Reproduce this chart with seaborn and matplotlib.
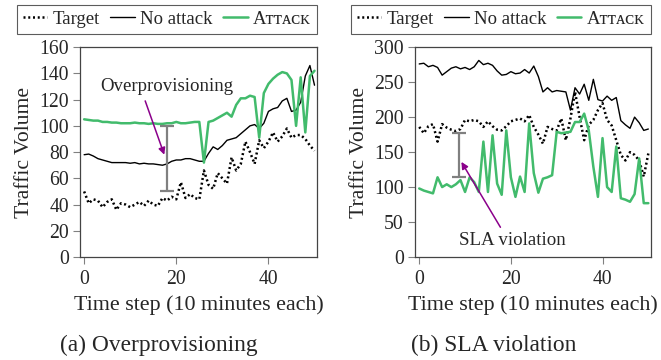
import numpy as np
import pandas as pd
import seaborn as sns
import matplotlib.pyplot as plt
from matplotlib.lines import Line2D

# ---------------------------------------------------------------------------
# data (time step 0..50)
# ---------------------------------------------------------------------------
steps = list(range(51))

over_target = [50, 41, 44, 43, 38, 42, 44, 36, 41, 40, 38, 40, 42, 39, 43, 40, 39,
               45, 43, 46, 44, 57, 45, 48, 45, 44, 66, 55, 52, 64, 60, 56, 76, 66,
               71, 88, 80, 71, 89, 83, 88, 95, 88, 92, 98, 91, 93, 93, 90, 85, 81]
over_noattack = [78, 78.5, 77, 75, 74, 73, 72, 72, 72, 72, 71.5, 72, 71, 71.5, 71, 71,
                 70.5, 70, 71, 73, 74, 74, 75, 75, 74, 73, 73, 79, 84, 82, 85, 89, 90,
                 91, 94, 97, 100, 101, 98, 102, 111, 113, 114, 119, 121, 111, 112, 118,
                 138, 146, 131]
over_attack = [105, 104.5, 104, 104, 103, 103, 102.5, 102.5, 102, 102, 102, 102.5, 102,
               102, 101.5, 102, 101.5, 101.5, 102, 102, 103, 102, 102, 102.5, 103, 103,
               72, 103, 104, 106, 108, 110, 107, 116, 121, 121, 123, 122, 91, 125, 132,
               136, 139, 141, 140, 135, 100, 137, 95, 138, 142]

sla_target = [186, 177, 187, 190, 165, 190, 185, 182, 180, 183, 196, 194, 196, 194, 186,
              194, 187, 182, 181, 187, 194, 196, 198, 194, 203, 186, 175, 162, 186, 183,
              181, 198, 167, 198, 236, 200, 167, 189, 196, 210, 220, 196, 188, 167, 146,
              138, 150, 146, 138, 115, 148]
sla_noattack = [276, 277, 272, 274, 271, 260, 265, 270, 272, 269, 271, 268, 272, 281, 275,
                277, 274, 266, 260, 261, 265, 262, 263, 268, 263, 273, 258, 236, 242, 236,
                238, 237, 236, 210, 242, 233, 247, 224, 254, 225, 223, 230, 224, 228, 195,
                189, 184, 200, 192, 181, 183]
sla_attack = [98, 95, 93, 91, 114, 100, 104, 100, 104, 110, 93, 114, 107, 93, 165, 93,
              174, 105, 89, 181, 114, 86, 115, 93, 191, 120, 92, 112, 114, 117, 179, 177,
              178, 179, 193, 193, 205, 181, 129, 86, 170, 100, 93, 158, 84, 82, 79, 90,
              141, 77, 77]

legend_labels = ["Target", "No attack", "A\u1d1b\u1d1b\u1d00\u1d04\u1d0b"]
GREEN = "#42bb6c"
DOTS = (0, (0.8, 1.1))

sns.set_style("ticks")
plt.rcParams['font.family'] = ['Liberation Serif', 'DejaVu Serif']

fig = plt.figure(figsize=(6.61, 3.6), dpi=100)
ax1 = fig.add_axes([0.121, 0.286, 0.359, 0.583])
ax2 = fig.add_axes([0.628, 0.286, 0.357, 0.583])


def draw_panel(ax, target, noattack, attack, ymax, ystep):
    sns.lineplot(x=steps, y=target, ax=ax, color="black", lw=1.8, linestyle=DOTS)
    sns.lineplot(x=steps, y=noattack, ax=ax, color="black", lw=1.0)
    sns.lineplot(x=steps, y=attack, ax=ax, color=GREEN, lw=1.8)
    ax.set_xlim(-0.9, 50.6)
    ax.set_ylim(0, ymax)
    ax.set_xticks([0, 20, 40])
    ax.set_yticks(np.arange(0, ymax + 1, ystep))
    ax.tick_params(direction="out", length=5, width=0.8, color="gray",
                   labelsize=14.2)
    ax.tick_params(axis="y", pad=3)
    ax.tick_params(axis="x", pad=4)
    for s in ax.spines.values():
        s.set_color("#444444")
        s.set_linewidth(0.9)
    ax.set_xlabel("Time step (10 minutes each)", fontsize=15.8, labelpad=5)
    ax.set_ylabel("Traffic Volume", fontsize=15.6, labelpad=4)
    handles = [Line2D([], [], color="black", lw=1.8, linestyle=DOTS),
               Line2D([], [], color="black", lw=1.0),
               Line2D([], [], color=GREEN, lw=1.8)]
    leg = ax.legend(handles, legend_labels, loc="lower right",
                    bbox_to_anchor=(1.0, 1.065), ncol=3, frameon=True,
                    fancybox=False, edgecolor="#333333", fontsize=13.5,
                    handlelength=1.3, handletextpad=0.3, columnspacing=0.55,
                    borderpad=0.3, borderaxespad=0)
    leg.get_frame().set_linewidth(0.8)


draw_panel(ax1, over_target, over_noattack, over_attack, 160, 20)
draw_panel(ax2, sla_target, sla_noattack, sla_attack, 300, 50)

# gap markers
ax1.errorbar([18], [75], yerr=[25], color="gray", lw=1.6, capsize=4.7, capthick=1.6)
ax2.errorbar([8.7], [146], yerr=[32], color="gray", lw=1.6, capsize=4.7, capthick=1.6)

ax1.annotate("Overprovisioning", xy=(17.4, 78), xytext=(18, 130), fontsize=13.6,
             ha="center", va="center",
             arrowprops=dict(arrowstyle="-|>", color="#8b008b", lw=1.1,
                             relpos=(0.32, 0), shrinkA=2, shrinkB=0,
                             mutation_scale=10))
ax2.annotate("SLA violation", xy=(9.2, 136), xytext=(20.4, 24), fontsize=13.6,
             ha="center", va="center",
             arrowprops=dict(arrowstyle="-|>", color="#8b008b", lw=1.1,
                             relpos=(0.41, 1), shrinkA=1, shrinkB=0,
                             mutation_scale=10))

fig.text(0.241, 0.040, "(a) Overprovisioning", fontsize=16.8, ha="center", va="center")
fig.text(0.747, 0.040, "(b) SLA violation", fontsize=16.8, ha="center", va="center")

fig.savefig("out.png", dpi=100)
